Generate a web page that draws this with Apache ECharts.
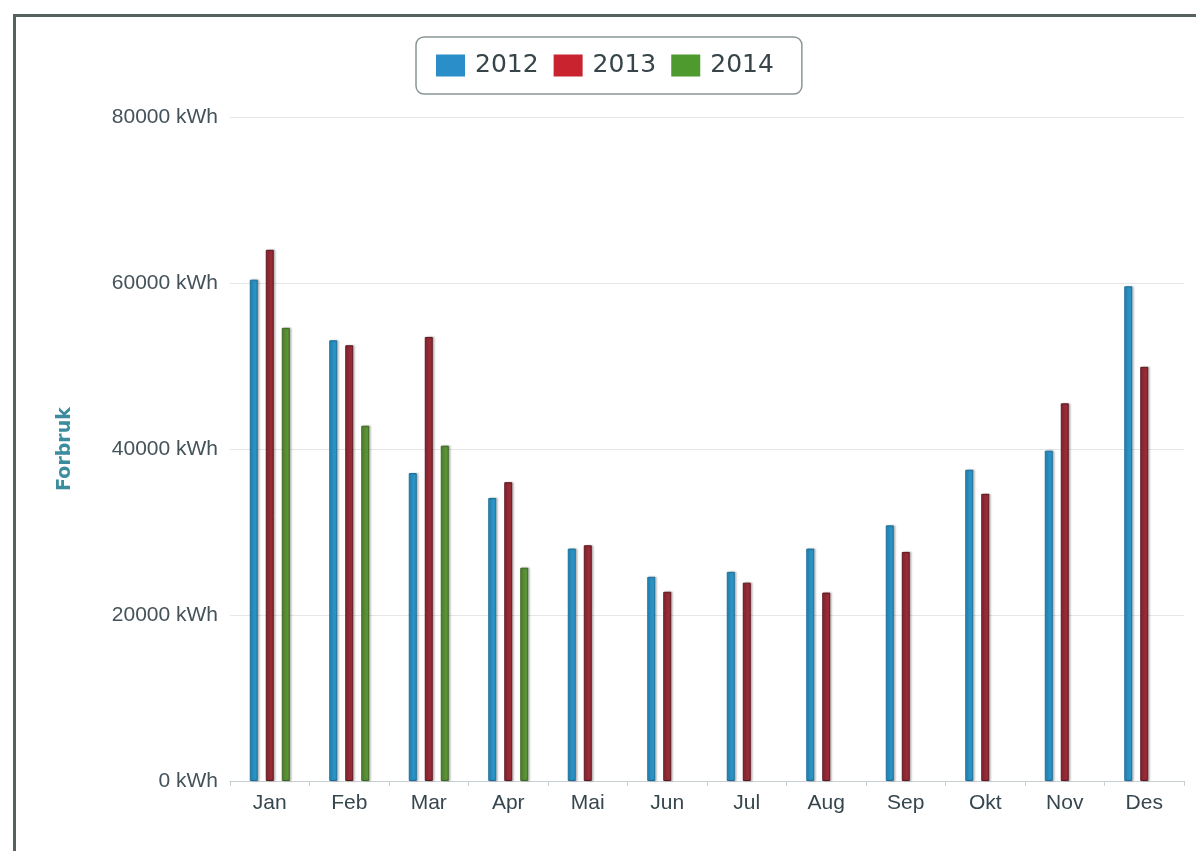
<!DOCTYPE html>
<html>
<head>
<meta charset="utf-8">
<script src="https://cdn.jsdelivr.net/npm/echarts@6/dist/echarts.min.js"></script>
<style>
html,body{margin:0;padding:0;background:#fff;overflow:hidden;}
#frame{position:absolute;left:13px;top:14px;width:1300px;height:900px;border-left:3px solid #55625f;border-top:3px solid #55625f;box-sizing:border-box;}
#chart{position:absolute;left:0;top:0;width:1196px;height:851px;}
</style>
</head>
<body>
<div id="frame"></div>
<div id="chart"></div>
<script>
const months = ['Jan','Feb','Mar','Apr','Mai','Jun','Jul','Aug','Sep','Okt','Nov','Des'];
const years = ['2012','2013','2014'];
const values2012 = [60400, 53100, 37100, 34100, 28000, 24600, 25200, 28000, 30800, 37500, 39800, 59600];
const values2013 = [64000, 52500, 53500, 36000, 28400, 22800, 23900, 22700, 27600, 34600, 45500, 49900];
const values2014 = [54600, 42800, 40400, 25700, null, null, null, null, null, null, null, null];
const yTicks = [0, 20000, 40000, 60000, 80000];

const barColors = ['#2a93c6', '#972b36', '#5a9236'];
const borderColors = ['#1d6f99', '#5e1820', '#3b6722'];
const legendColors = ['#2a8ec8', '#c8232f', '#4e9a2f'];
const seriesValues = [values2012, values2013, values2014];

const chart = echarts.init(document.getElementById('chart'), null, {renderer: 'canvas'});
chart.setOption({
  backgroundColor: 'transparent',
  animation: false,
  legend: {
    left: 416,
    top: 37,
    padding: [16, 28, 16, 20],
    itemWidth: 29,
    itemHeight: 22,
    itemGap: 15,
    borderColor: '#8a9696',
    borderWidth: 1.5,
    borderRadius: 8,
    backgroundColor: '#fff',
    data: years.map((y, i) => ({name: y, icon: 'rect', itemStyle: {color: legendColors[i], borderWidth: 0}})),
    textStyle: {fontFamily: 'DejaVu Sans', fontSize: 25, color: '#37454a', padding: [0, 0, 0, 5]}
  },
  grid: {left: 230, right: 12, top: 117, bottom: 70},
  xAxis: {
    type: 'category',
    data: months,
    axisLine: {lineStyle: {color: '#c8cfd2', width: 1}},
    axisTick: {show: true, length: 5, lineStyle: {color: '#c8cfd2'}},
    axisLabel: {fontFamily: 'Liberation Sans', fontSize: 21, color: '#36464e', margin: 12}
  },
  yAxis: {
    type: 'value',
    min: yTicks[0],
    max: yTicks[yTicks.length - 1],
    interval: 20000,
    name: 'Forbruk',
    nameLocation: 'middle',
    nameRotate: 90,
    nameGap: 155,
    nameTextStyle: {fontFamily: 'DejaVu Sans', fontSize: 19, fontWeight: 'bold', color: '#3b8c9c'},
    axisLine: {show: false},
    axisTick: {show: false},
    splitLine: {lineStyle: {color: '#e4e6e8', width: 1}},
    axisLabel: {fontFamily: 'Liberation Sans', fontSize: 21, color: '#44535a', margin: 12,
      formatter: v => v + ' kWh'}
  },
  series: years.map((y, i) => ({
    name: y,
    type: 'bar',
    data: seriesValues[i],
    barWidth: 8,
    barGap: '100%',
    itemStyle: {
      color: barColors[i],
      borderColor: borderColors[i],
      borderWidth: 1,
      shadowColor: 'rgba(0,0,0,0.25)',
      shadowBlur: 2,
      shadowOffsetX: 1.5,
      shadowOffsetY: 0
    }
  }))
});
</script>
</body>
</html>
